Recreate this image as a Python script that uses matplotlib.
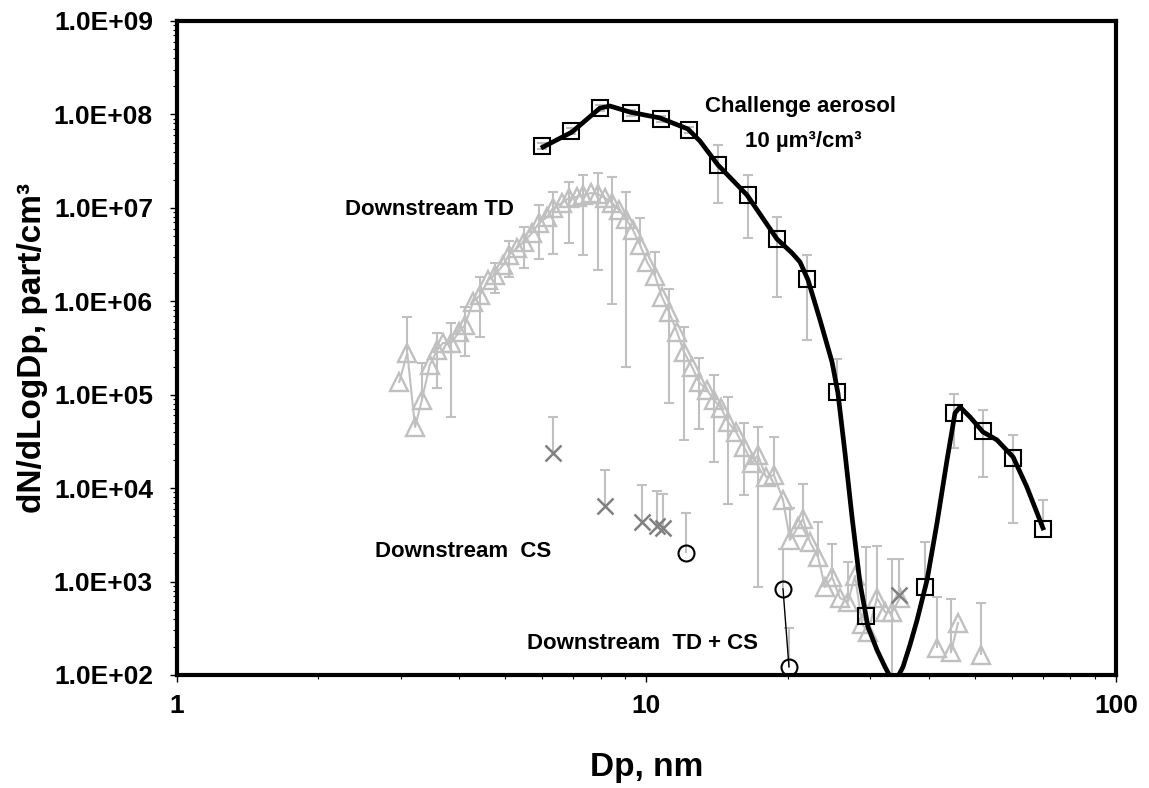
import numpy as np
import matplotlib
matplotlib.use("Agg")
import matplotlib.pyplot as plt
from matplotlib.ticker import FixedLocator, LogLocator, NullFormatter

plt.rcParams['font.family'] = ['Liberation Sans', 'DejaVu Sans']
plt.rcParams['font.weight'] = 'bold'

nan = np.nan

# challenge aerosol (squares) and the smoothed line through it
ch_x = [6.00, 6.92, 7.97, 9.28, 10.75, 12.33, 14.21, 16.47, 18.98, 21.99, 25.47, 29.37, 39.2, 45.2, 52.1, 60.4, 69.9]
ch_y = [4.59e7, 6.65e7, 1.17e8, 1.04e8, 8.9e7, 6.8e7, 2.88e7, 1.37e7, 4.64e6, 1.73e6, 1.07e5, 428, 875, 6.37e4, 4.09e4, 2.10e4, 3.65e3]
ch_top = [4.95e7, 7.2e7, 1.26e8, 1.12e8, 9.6e7, 7.3e7, 4.71e7, 2.25e7, 7.98e6, 3.13e6, 2.41e5, 2.34e3, 2.65e3, 1.02e5, 6.86e4, 3.71e4, 7.47e3]
ch_bot = [4.25e7, 6.1e7, 1.08e8, 9.6e7, 8.2e7, 6.3e7, 1.13e7, 4.76e6, 1.11e6, 3.85e5, nan, nan, nan, 2.69e4, 1.32e4, 4.24e3, nan]

fit_x = [6.03, 6.95, 7.97, 8.37, 9.23, 10.70, 12.27, 13.01, 14.21, 16.39, 18.98, 20.43, 21.25, 22.10, 23.44,
         24.86, 25.59, 26.49, 27.42, 28.51, 29.65, 30.99, 32.23, 33.69, 35.2, 36.43, 37.72, 39.61, 41.59,
         43.68, 45.42, 46.55, 48.90, 52.1, 55.8, 60.4, 64.6, 69.9]
fit_y = [4.48e7, 6.48e7, 1.17e8, 1.23e8, 1.06e8, 9.16e7, 6.98e7, 5.19e7, 2.88e7, 1.37e7, 4.64e6, 3.29e6, 2.63e6,
         1.69e6, 6.30e5, 2.24e5, 1.04e5, 2.38e4, 4.91e3, 965, 327, 185, 122, 80, 122, 210, 388, 1.04e3, 4.24e3,
         2.0e4, 6.37e4, 7.39e4, 5.77e4, 3.99e4, 3.28e4, 2.15e4, 1.03e4, 3.75e3]

# downstream TD (triangles)
td_x = [2.98, 3.10, 3.22, 3.33, 3.46, 3.59, 3.69, 3.84, 4.00, 4.11, 4.28, 4.43, 4.61, 4.76, 4.96, 5.10,
        5.31, 5.49, 5.71, 5.91, 6.15, 6.33, 6.62, 6.85, 7.12, 7.34, 7.63, 7.89, 8.17, 8.46, 8.75, 9.06,
        9.37, 9.70, 10.04, 10.44, 10.80, 11.18, 11.63, 12.03, 12.52, 12.95, 13.47, 13.94, 14.43, 14.93,
        15.53, 16.15, 16.80, 17.29, 17.98, 18.70, 19.55, 20.23, 21.04, 21.56, 22.32, 23.21, 24.02, 24.86,
        25.85, 26.88, 27.82, 28.80, 29.65, 30.99, 32.23, 33.37, 34.69, nan, 41.59, nan, 44.54, 46.10, nan, 51.6]
td_y = [1.37e5, 2.80e5, 4.51e4, 8.78e4, 2.08e5, 3.01e5, 3.58e5, 3.58e5, 4.69e5, 5.58e5, 9.83e5, 1.17e6,
        1.69e6, 1.91e6, 2.45e6, 3.13e6, 3.72e6, 4.31e6, 5.38e6, 6.88e6, 7.98e6, 9.97e6, 1.13e7, 1.28e7,
        1.31e7, 1.37e7, 1.44e7, 1.41e7, 1.28e7, 1.13e7, 9.49e6, 7.60e6, 5.79e6, 4.00e6, 2.63e6, 1.87e6,
        1.11e6, 7.68e5, 4.69e5, 2.87e5, 1.98e5, 1.37e5, 1.12e5, 8.78e4, 7.21e4, 5.11e4, 3.99e4, 2.76e4,
        1.86e4, 2.26e4, 1.32e4, 1.38e4, 7.47e3, 2.79e3, 3.84e3, 4.68e3, 2.65e3, 1.83e3, 875, 1.12e3,
        667, 605, 1.15e3, 352, 289, 667, 472, 472, 667, nan, 195, nan, 176, 360, nan, 164]
td_top = [nan, 6.79e5, nan, 2.19e5, nan, 4.58e5, nan, 5.86e5, nan, 8.69e5, nan, 1.82e6, nan, 2.57e6, nan, 4.42e6,
          nan, 6.24e6, nan, 1.07e7, nan, 1.48e7, nan, 1.89e7, nan, 2.25e7, nan, 2.36e7, nan, 2.14e7, nan, 1.48e7,
          nan, 7.79e6, nan, 3.37e6, nan, 1.35e6, nan, 5.31e5, nan, 2.47e5, nan, 1.63e5, nan, 9.45e4, nan, 4.98e4,
          nan, 4.51e4, nan, 3.53e4, nan, 6.13e3, nan, 1.11e4, nan, 4.34e3, nan, 2.52e3, nan, 1.62e3, nan, nan,
          nan, 2.40e3, nan, 1.74e3, nan, nan, 684, nan, 651, nan, nan, 590]
td_bot = [nan, nan, nan, nan, nan, 1.18e5, nan, 5.77e4, nan, 2.60e5, nan, 4.15e5, nan, 1.23e6, nan, 1.82e6,
          nan, 2.27e6, nan, 2.84e6, nan, 3.21e6, nan, 4.21e6, nan, 3.13e6, nan, 2.16e6, nan, 9.35e5, nan, 1.98e5,
          nan, nan, nan, nan, nan, 8.15e4, nan, 3.28e4, nan, 4.30e4, nan, 1.91e4, nan, 6.77e3, nan, 8.45e3,
          nan, 875, nan, nan, nan, nan, nan, nan, nan, nan, nan, nan, nan, nan, nan, nan,
          nan, nan, nan, 50, nan, nan, nan, nan, nan, nan, nan, nan]

# downstream CS (crosses)
cs_x = [6.33, 8.17, 9.79, 10.54, 10.86, 34.5]
cs_y = [2.38e4, 6.44e3, 4.34e3, 3.93e3, 3.75e3, 718]
cs_top = [5.77e4, 1.56e4, 1.08e4, 9.32e3, 8.66e3, 1.74e3]

# downstream TD + CS (circles)
tdcs_x = [12.15, nan, 19.55, 20.13]
tdcs_y = [2.02e3, nan, 833, 122]
tdcs_top = [5.42e3, nan, 2.23e3, 319]

BAR = '#c0c0c0'


def err_bars(ax, x, y, top, bot):
   for xi, yi, t, b in zip(x, y, top, bot):
      if np.isnan(yi):
         continue
      hi = yi if np.isnan(t) else t
      lo = yi if np.isnan(b) else b
      if hi == lo:
         continue
      ax.plot([xi, xi], [lo, hi], color=BAR, lw=1.5, zorder=1, solid_capstyle='butt')
      if not np.isnan(t):
         ax.plot([xi], [t], marker='_', ms=7, mew=1.5, color=BAR, zorder=1)
      if not np.isnan(b):
         ax.plot([xi], [b], marker='_', ms=7, mew=1.5, color=BAR, zorder=1)


fig = plt.figure(figsize=(11.49, 7.88), dpi=100)
ax = fig.add_axes([176.5 / 1149, 1 - 675 / 788, (1116 - 176.5) / 1149, (675 - 21) / 788])
ax.set_xscale('log')
ax.set_yscale('log')
ax.set_xlim(1, 100)
ax.set_ylim(1e2, 1e9)

err_bars(ax, td_x, td_y, td_top, td_bot)
err_bars(ax, cs_x, cs_y, cs_top, [nan] * len(cs_x))
err_bars(ax, tdcs_x, tdcs_y, tdcs_top, [nan] * len(tdcs_x))
err_bars(ax, ch_x, ch_y, ch_top, ch_bot)

ax.plot(td_x, td_y, color=BAR, lw=1.5, marker='^', ms=12.5, mfc='none', mec=BAR, mew=1.7, zorder=2)
ax.plot(cs_x, cs_y, ls='none', marker='x', ms=11, mew=1.8, color='#808080', zorder=3)
ax.plot(tdcs_x, tdcs_y, color='black', lw=1.0, marker='o', ms=11.5, mfc='none', mec='black', mew=1.5, zorder=3)
ax.plot(fit_x, fit_y, color='black', lw=3.4, solid_joinstyle='round', zorder=4)
ax.plot(ch_x, ch_y, ls='none', marker='s', ms=11.5, mfc='none', mec='black', mew=1.5, zorder=5)

fs = 16
ax.text(13.34, 1.23e8, 'Challenge aerosol', fontsize=fs, fontweight='bold', va='center')
ax.text(16.23, 5.07e7, '10 µm³/cm³', fontsize=fs, fontweight='bold', va='center')
ax.text(2.28, 9.49e6, 'Downstream TD', fontsize=fs, fontweight='bold', va='center')
ax.text(2.65, 2.12e3, 'Downstream  CS', fontsize=fs, fontweight='bold', va='center')
ax.text(5.57, 215, 'Downstream  TD + CS', fontsize=fs, fontweight='bold', va='center')

yt = [10.0 ** k for k in range(2, 10)]
ax.yaxis.set_major_locator(FixedLocator(yt))
ax.set_yticklabels([f"{v:.1E}" for v in yt])
ax.yaxis.set_minor_locator(LogLocator(base=10, subs=np.arange(2, 10)))
ax.yaxis.set_minor_formatter(NullFormatter())
ax.xaxis.set_major_locator(FixedLocator([1, 10, 100]))
ax.set_xticklabels(['1', '10', '100'])
ax.xaxis.set_minor_locator(LogLocator(base=10, subs=np.arange(2, 10)))
ax.xaxis.set_minor_formatter(NullFormatter())

ax.tick_params(which='major', direction='out', length=5, width=1, labelsize=19, pad=12)
ax.tick_params(axis='x', which='major', pad=9)
ax.tick_params(which='minor', direction='out', length=3, width=0.8)
for s in ax.spines.values():
   s.set_linewidth(3)

ax.set_xlabel('Dp, nm', fontsize=24, fontweight='bold', labelpad=24)
ax.set_ylabel('dN/dLogDp, part/cm³', fontsize=24, fontweight='bold', labelpad=4)

fig.savefig('out.png', dpi=100)
